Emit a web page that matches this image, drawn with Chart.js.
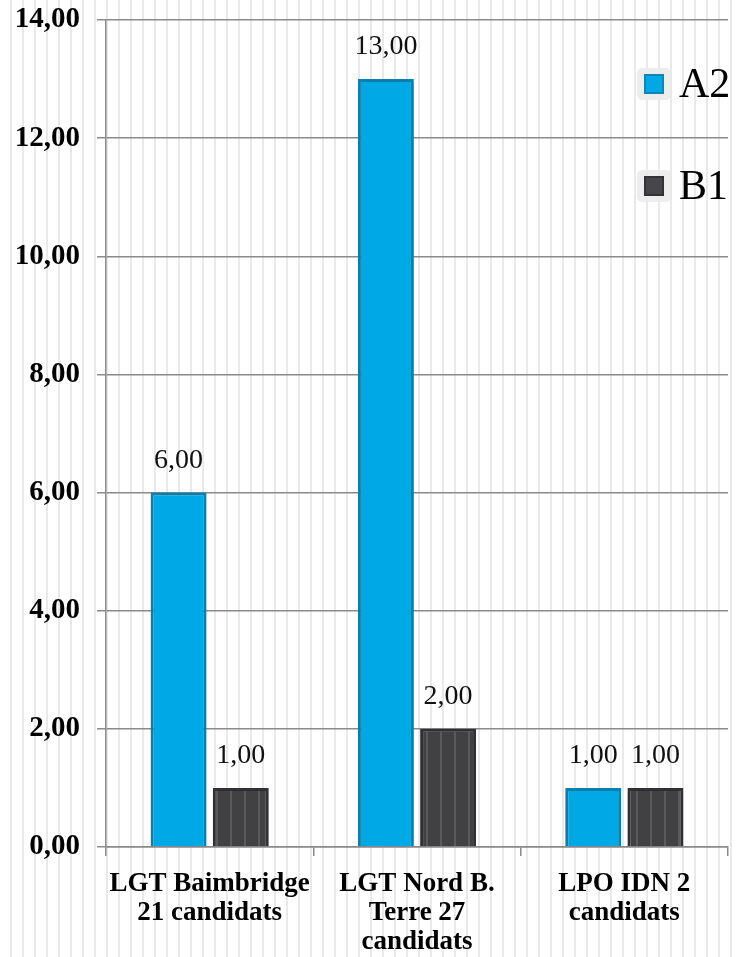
<!DOCTYPE html>
<html>
<head>
  <meta charset="UTF-8">
  <title>A2 / B1</title>
  <script src="https://cdn.jsdelivr.net/npm/chart.js"></script>
  <style>
    html, body {
      margin: 0;
      padding: 0;
    }
    body {
      background: repeating-linear-gradient(90deg, #ffffff 0px, #ffffff 10.5px, #e9e9e9 10.5px, #e9e9e9 12px);
    }
    #wrap {
      width: 737px;
      height: 957px;
      position: relative;
    }
  </style>
</head>
<body>
  <div id="wrap">
    <canvas id="chart"></canvas>
  </div>

  <script>
    // donnees
    const categories = [
      ['LGT Baimbridge', '21 candidats'],
      ['LGT Nord B.', 'Terre 27', 'candidats'],
      ['LPO IDN 2', 'candidats']
    ];
    const seriesNames = ['A2', 'B1'];
    const a2Values = [6, 13, 1];
    const b1Values = [1, 2, 1];
    const yMin = 0;
    const yMax = 14;
    const yStep = 2;

    const serif = '"Liberation Serif", "DejaVu Serif", serif';
    const fmt = v => v.toFixed(2).replace('.', ',');

    // motif rayé pour les barres B1
    function stripePattern() {
      const c = document.createElement('canvas');
      c.width = 14;
      c.height = 10;
      const g = c.getContext('2d');
      g.fillStyle = '#414143';
      g.fillRect(0, 0, 14, 10);
      g.fillStyle = '#5a5a5d';
      g.fillRect(6, 0, 2, 10);
      return g.createPattern(c, 'repeat');
    }

    const glowPlugin = {
      id: 'glow',
      beforeDatasetsDraw(chart) {
        const ctx = chart.ctx;
        ctx.save();
        ctx.shadowColor = 'rgba(0,0,0,0.16)';
        ctx.shadowBlur = 10;
      },
      afterDatasetsDraw(chart) {
        chart.ctx.restore();
      }
    };

    const valueLabels = {
      id: 'valueLabels',
      afterDatasetsDraw(chart) {
        const ctx = chart.ctx;
        ctx.save();
        ctx.font = '28px ' + serif;
        ctx.fillStyle = '#111';
        ctx.textAlign = 'center';
        ctx.textBaseline = 'middle';
        chart.data.datasets.forEach((ds, i) => {
          const meta = chart.getDatasetMeta(i);
          meta.data.forEach((bar, j) => {
            ctx.fillText(fmt(ds.data[j]), bar.x, bar.y - 32);
          });
        });
        ctx.restore();
      }
    };

    const sideLegend = {
      id: 'sideLegend',
      afterDraw(chart) {
        const ctx = chart.ctx;
        const area = chart.chartArea;
        ctx.save();
        chart.data.datasets.forEach((ds, i) => {
          const cy = area.top + 64 + i * 102;
          const bx = area.right - 84;
          // fond clair arrondi
          ctx.fillStyle = 'rgba(235,235,235,0.9)';
          ctx.beginPath();
          ctx.roundRect(bx - 7, cy - 16, 34, 32, 5);
          ctx.fill();
          ctx.fillStyle = ds.legendColor;
          ctx.fillRect(bx, cy - 10, 20, 20);
          ctx.strokeStyle = ds.borderColor;
          ctx.lineWidth = 2;
          ctx.strokeRect(bx + 1, cy - 9, 18, 18);
          ctx.fillStyle = '#000';
          ctx.font = '42px ' + serif;
          ctx.textAlign = 'left';
          ctx.textBaseline = 'middle';
          ctx.fillText(ds.label, bx + 35, cy + 2);
        });
        ctx.restore();
      }
    };

    const chart = new Chart(document.getElementById('chart'), {
      type: 'bar',
      data: {
        labels: categories,
        datasets: [
          {
            label: seriesNames[0],
            data: a2Values,
            backgroundColor: '#00a9e6',
            borderColor: '#0a86b8',
            legendColor: '#00a9e6',
            borderWidth: 3,
            categoryPercentage: 0.6,
            barPercentage: 0.9
          },
          {
            label: seriesNames[1],
            data: b1Values,
            backgroundColor: stripePattern(),
            borderColor: '#333335',
            legendColor: '#47474a',
            borderWidth: 3,
            categoryPercentage: 0.6,
            barPercentage: 0.9
          }
        ]
      },
      options: {
        responsive: true,
        maintainAspectRatio: false,
        animation: false,
        layout: {
          padding: { top: 20, right: 9, left: 0, bottom: 0 }
        },
        plugins: {
          legend: { display: false },
          tooltip: { enabled: false }
        },
        scales: {
          x: {
            afterFit: s => { s.height = 110; },
            grid: {
              offset: true,
              drawOnChartArea: false,
              tickLength: 9,
              color: '#8a8a8a',
              lineWidth: 1.5
            },
            border: { color: '#8a8a8a', width: 1.5 },
            ticks: {
              color: '#000',
              padding: 14,
              maxRotation: 0,
              autoSkip: false,
              font: { family: serif, size: 27, weight: 'bold', lineHeight: 1.07 }
            }
          },
          y: {
            min: yMin,
            max: yMax,
            afterFit: s => {
              s.width = 106;
              s.paddingTop = 10;
              s.paddingBottom = 10;
            },
            grid: {
              color: '#8a8a8a',
              lineWidth: 1.5,
              tickLength: 9
            },
            border: { color: '#8a8a8a', width: 1.5 },
            ticks: {
              stepSize: yStep,
              color: '#000',
              padding: 17,
              font: { family: serif, size: 29, weight: 'bold' },
              callback: v => fmt(v)
            }
          }
        }
      },
      plugins: [glowPlugin, valueLabels, sideLegend]
    });
  </script>
</body>
</html>
